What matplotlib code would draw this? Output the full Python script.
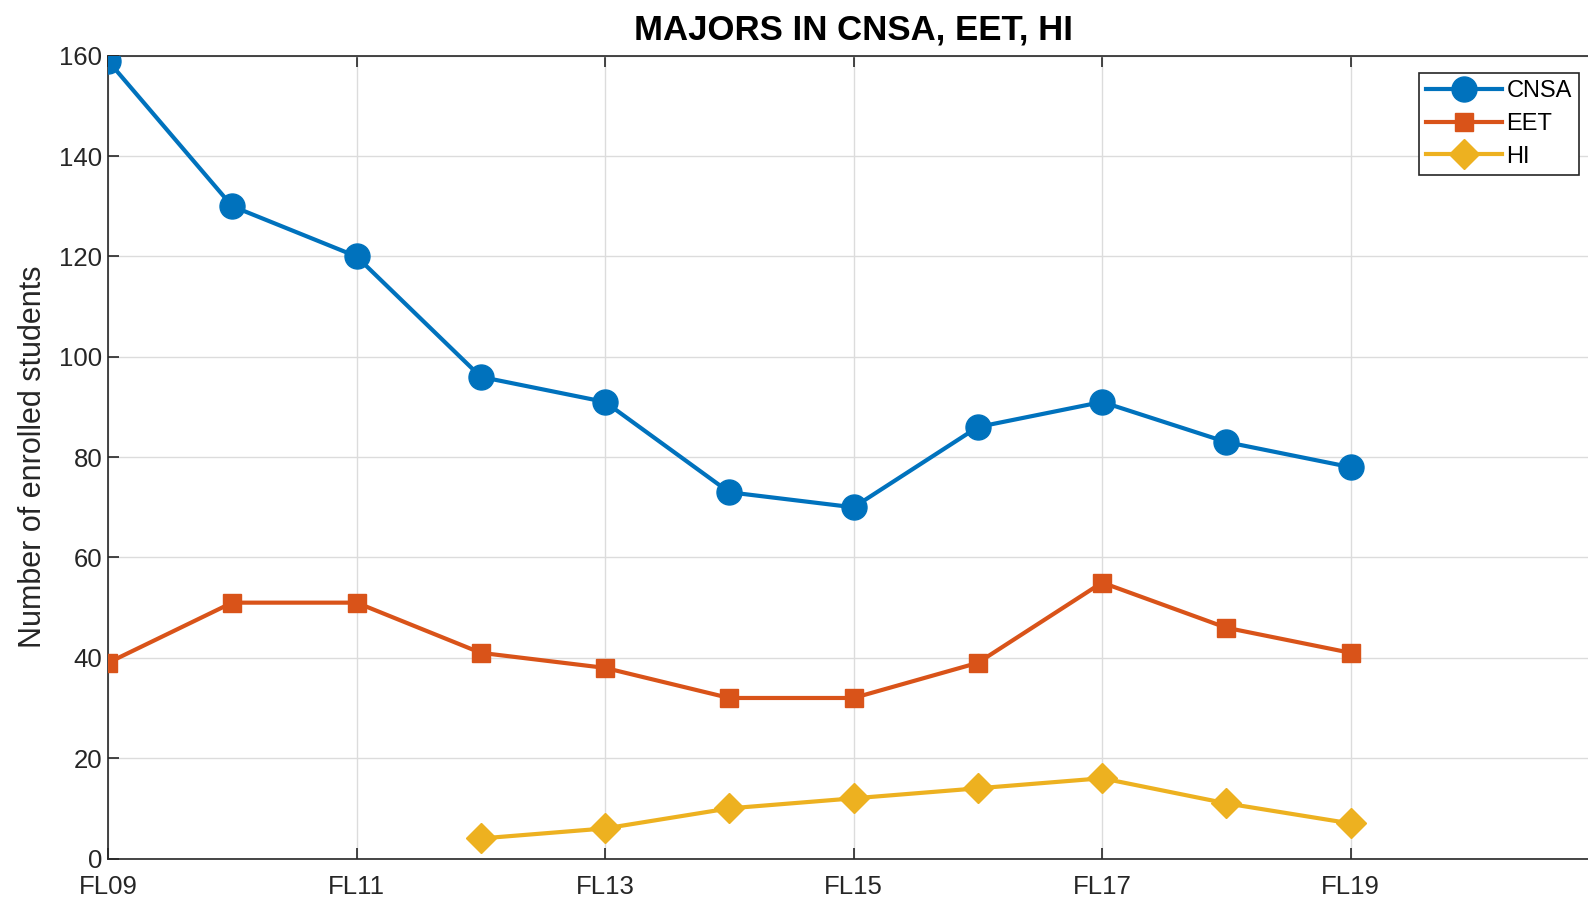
import numpy as np
import matplotlib.pyplot as plt

plt.rcParams['font.family'] = ['Liberation Sans', 'DejaVu Sans']

# semesters (only every other one is labelled)
terms = ['FL09', 'FL10', 'FL11', 'FL12', 'FL13', 'FL14', 'FL15', 'FL16', 'FL17', 'FL18', 'FL19']
tick_labels = ['FL09', 'FL11', 'FL13', 'FL15', 'FL17', 'FL19']

cnsa = [159, 130, 120, 96, 91, 73, 70, 86, 91, 83, 78]
eet = [39, 51, 51, 41, 38, 32, 32, 39, 55, 46, 41]
hi_terms = ['FL12', 'FL13', 'FL14', 'FL15', 'FL16', 'FL17', 'FL18', 'FL19']
hi = [4, 6, 10, 12, 14, 16, 11, 7]

x = np.arange(len(terms))
x_hi = np.array([terms.index(t) for t in hi_terms])

fig = plt.figure(figsize=(15.88, 8.99), dpi=100)
ax = fig.add_axes([0.068, 0.045, 0.939, 0.893])

ax.plot(x, cnsa, '-o', color='#0072BD', lw=3, ms=18, label='CNSA', zorder=3)
ax.plot(x, eet, '-s', color='#D95319', lw=3, ms=13, label='EET', zorder=3)
ax.plot(x_hi, hi, '-D', color='#EDB120', lw=3, ms=15, label='HI', zorder=3)

ax.set_xlim(0, 12)
ax.set_ylim(0, 160)
ax.set_xticks([terms.index(t) for t in tick_labels])
ax.set_xticklabels(tick_labels)
ax.set_yticks(np.arange(0, 161, 20))
ax.tick_params(direction='in', length=8, width=1.2, labelsize=18.5, colors='#262626',
               top=True, right=True)
ax.tick_params(axis='x', pad=12)
ax.tick_params(axis='y', pad=4)
ax.grid(True, color='#dcdcdc', lw=1)
ax.set_axisbelow(True)
for s in ax.spines.values():
    s.set_color('#262626')
    s.set_linewidth(1.2)

ax.set_title('MAJORS IN CNSA, EET, HI', fontsize=25, fontweight='bold', pad=12)
ax.set_ylabel('Number of enrolled students', fontsize=22, color='#262626', labelpad=8)

leg = ax.legend(loc='upper right', bbox_to_anchor=(0.9865, 0.978), fontsize=17, handlelength=3.2,
                fancybox=False, framealpha=1, borderaxespad=0, handletextpad=0.2,
                labelspacing=0.45, borderpad=0.3)
leg.get_frame().set_edgecolor('#262626')
leg.get_frame().set_linewidth(1.2)

plt.savefig('out.png', dpi=100)
